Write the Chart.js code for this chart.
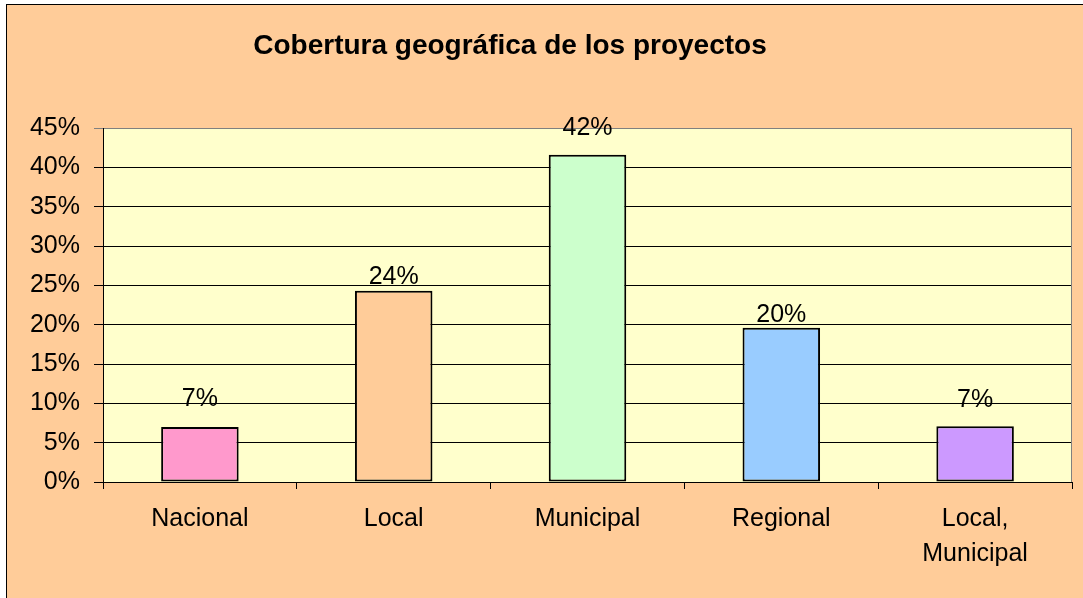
<!DOCTYPE html>
<html>
<head>
<meta charset="utf-8">
<script src="https://cdn.jsdelivr.net/npm/chart.js@4"></script>
<style>
  html, body { margin: 0; padding: 0; background: #ffffff; overflow: hidden; }
  #frame { position: absolute; left: 6px; top: 4px; width: 1200px; height: 700px;
           background: #FFCC99; border-left: 1px solid #000; border-top: 1px solid #000; }
  #c { position: absolute; left: 0; top: 0; }
</style>
</head>
<body>
<div id="frame"></div>
<canvas id="c" width="1083" height="598"></canvas>
<script>
const chartTitle = 'Cobertura geográfica de los proyectos';
const categories = ['Nacional', 'Local', 'Municipal', 'Regional', ['Local,', 'Municipal']];
const values = [0.070, 0.243, 0.416, 0.196, 0.071];
const barColors = ['#FF99CC', '#FFCC99', '#CCFFCC', '#99CCFF', '#CC99FF'];
const yTicks = { min: 0, max: 0.45, step: 0.05 };
const labelGaps = [19, 5, 18, 4, 18];

const FONT = "'Liberation Sans', Arial, sans-serif";
Chart.defaults.font.family = FONT;
Chart.defaults.color = '#000';

const decor = {
  id: 'decor',
  beforeDraw(chart) {
    const { ctx, chartArea: a } = chart;
    ctx.save();
    ctx.fillStyle = '#FFFFCC';
    ctx.fillRect(a.left, a.top, a.right - a.left, a.bottom - a.top);
    ctx.restore();
  },
  afterDraw(chart) {
    const { ctx, chartArea: a } = chart;
    ctx.save();
    ctx.strokeStyle = '#808080';
    ctx.lineWidth = 1;
    ctx.beginPath();
    ctx.moveTo(a.right - 0.5, a.top);
    ctx.lineTo(a.right - 0.5, a.bottom);
    ctx.stroke();
    ctx.fillStyle = '#000';
    ctx.font = "bold 28px " + FONT;
    ctx.textAlign = 'center';
    ctx.textBaseline = 'alphabetic';
    ctx.fillText(chartTitle, 510, 54);
    ctx.font = "25px " + FONT;
    ctx.textBaseline = 'bottom';
    const meta = chart.getDatasetMeta(0);
    meta.data.forEach((bar, i) => {
      const v = chart.data.datasets[0].data[i];
      ctx.fillText(Math.round(v * 100) + '%', bar.x, bar.y - labelGaps[i] + 4);
    });
    ctx.restore();
  }
};

new Chart(document.getElementById('c'), {
  type: 'bar',
  data: {
    labels: categories,
    datasets: [{
      data: values,
      backgroundColor: barColors,
      borderColor: '#000',
      borderWidth: 2,
      borderSkipped: false,
      barPercentage: 0.4,
      categoryPercentage: 1.0
    }]
  },
  options: {
    responsive: false,
    animation: false,
    layout: { padding: { left: 0, right: 11, top: 128, bottom: 0 } },
    plugins: { legend: { display: false }, tooltip: { enabled: false }, title: { display: false } },
    scales: {
      x: {
        offset: true,
        grid: { offset: true, drawOnChartArea: false, tickLength: 7, color: '#000', lineWidth: 1 },
        border: { color: '#000', width: 1 },
        ticks: { font: { size: 25, lineHeight: 1.4 }, color: '#000', padding: 13, maxRotation: 0, autoSkip: false },
        afterFit(s) { s.height = 116; }
      },
      y: {
        min: yTicks.min,
        max: yTicks.max,
        grid: {
          tickLength: 9,
          lineWidth: 1,
          color: (c) => (c.tick && c.tick.value >= yTicks.max - 1e-6) ? '#808080' : '#000'
        },
        border: { color: '#000', width: 1 },
        ticks: {
          stepSize: yTicks.step,
          font: { size: 25 },
          color: '#000',
          padding: 14,
          callback: (v) => Math.round(v * 100) + '%'
        },
        afterFit(s) { s.width = 103; }
      }
    }
  },
  plugins: [decor]
});
</script>
</body>
</html>
